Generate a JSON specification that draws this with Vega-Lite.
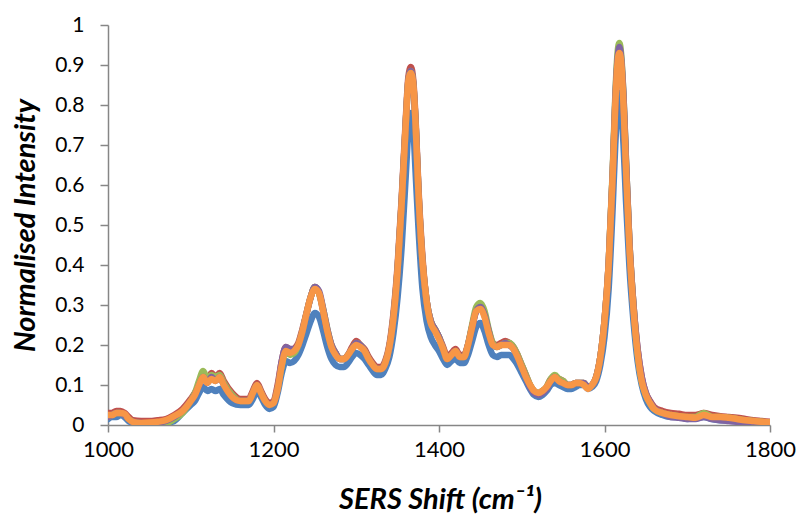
{
  "$schema": "https://vega.github.io/schema/vega-lite/v6.json",
  "width": 662,
  "height": 400,
  "autosize": {"type": "none"},
  "padding": {"left": 108, "top": 25, "right": 27, "bottom": 92},
  "background": "white",
  "config": {"view": {"stroke": null}},
  "data": {"values": [
    {"x":1000,"S1":0.015,"S2":0.03,"S3":0.02,"S4":0.02,"S5":0.025},
    {"x":1005,"S1":0.02,"S2":0.03,"S3":0.025,"S4":0.025,"S5":0.025},
    {"x":1010,"S1":0.02,"S2":0.035,"S3":0.03,"S4":0.03,"S5":0.03},
    {"x":1015,"S1":0.025,"S2":0.035,"S3":0.03,"S4":0.03,"S5":0.03},
    {"x":1020,"S1":0.02,"S2":0.03,"S3":0.025,"S4":0.025,"S5":0.028},
    {"x":1025,"S1":0.01,"S2":0.02,"S3":0.015,"S4":0.015,"S5":0.015},
    {"x":1030,"S1":0.005,"S2":0.012,"S3":0.008,"S4":0.008,"S5":0.008},
    {"x":1040,"S1":0.002,"S2":0.01,"S3":0.004,"S4":0.005,"S5":0.005},
    {"x":1050,"S1":0.0,"S2":0.01,"S3":0.003,"S4":0.004,"S5":0.006},
    {"x":1060,"S1":0.002,"S2":0.012,"S3":0.005,"S4":0.006,"S5":0.008},
    {"x":1070,"S1":0.005,"S2":0.015,"S3":0.005,"S4":0.01,"S5":0.012},
    {"x":1080,"S1":0.01,"S2":0.025,"S3":0.015,"S4":0.02,"S5":0.022},
    {"x":1090,"S1":0.03,"S2":0.04,"S3":0.03,"S4":0.035,"S5":0.035},
    {"x":1100,"S1":0.05,"S2":0.065,"S3":0.06,"S4":0.06,"S5":0.06},
    {"x":1105,"S1":0.06,"S2":0.08,"S3":0.08,"S4":0.075,"S5":0.075},
    {"x":1110,"S1":0.08,"S2":0.1,"S3":0.11,"S4":0.1,"S5":0.1},
    {"x":1115,"S1":0.095,"S2":0.125,"S3":0.135,"S4":0.12,"S5":0.12},
    {"x":1120,"S1":0.085,"S2":0.11,"S3":0.115,"S4":0.105,"S5":0.105},
    {"x":1125,"S1":0.09,"S2":0.13,"S3":0.125,"S4":0.12,"S5":0.115},
    {"x":1130,"S1":0.085,"S2":0.12,"S3":0.12,"S4":0.11,"S5":0.11},
    {"x":1135,"S1":0.09,"S2":0.13,"S3":0.125,"S4":0.12,"S5":0.12},
    {"x":1140,"S1":0.075,"S2":0.11,"S3":0.105,"S4":0.1,"S5":0.1},
    {"x":1150,"S1":0.055,"S2":0.08,"S3":0.075,"S4":0.07,"S5":0.07},
    {"x":1160,"S1":0.05,"S2":0.065,"S3":0.06,"S4":0.06,"S5":0.06},
    {"x":1170,"S1":0.05,"S2":0.065,"S3":0.06,"S4":0.06,"S5":0.06},
    {"x":1175,"S1":0.065,"S2":0.085,"S3":0.08,"S4":0.08,"S5":0.08},
    {"x":1180,"S1":0.085,"S2":0.105,"S3":0.1,"S4":0.1,"S5":0.1},
    {"x":1185,"S1":0.07,"S2":0.085,"S3":0.08,"S4":0.08,"S5":0.08},
    {"x":1190,"S1":0.05,"S2":0.065,"S3":0.06,"S4":0.06,"S5":0.06},
    {"x":1195,"S1":0.04,"S2":0.055,"S3":0.05,"S4":0.05,"S5":0.05},
    {"x":1200,"S1":0.045,"S2":0.06,"S3":0.055,"S4":0.055,"S5":0.055},
    {"x":1205,"S1":0.08,"S2":0.1,"S3":0.09,"S4":0.09,"S5":0.09},
    {"x":1210,"S1":0.13,"S2":0.16,"S3":0.15,"S4":0.16,"S5":0.15},
    {"x":1215,"S1":0.16,"S2":0.195,"S3":0.185,"S4":0.195,"S5":0.185},
    {"x":1220,"S1":0.155,"S2":0.185,"S3":0.175,"S4":0.19,"S5":0.18},
    {"x":1225,"S1":0.16,"S2":0.19,"S3":0.18,"S4":0.19,"S5":0.185},
    {"x":1230,"S1":0.175,"S2":0.205,"S3":0.2,"S4":0.2,"S5":0.2},
    {"x":1235,"S1":0.2,"S2":0.24,"S3":0.235,"S4":0.235,"S5":0.235},
    {"x":1240,"S1":0.23,"S2":0.28,"S3":0.28,"S4":0.28,"S5":0.28},
    {"x":1245,"S1":0.26,"S2":0.32,"S3":0.32,"S4":0.32,"S5":0.32},
    {"x":1250,"S1":0.28,"S2":0.345,"S3":0.345,"S4":0.345,"S5":0.34},
    {"x":1255,"S1":0.27,"S2":0.33,"S3":0.33,"S4":0.335,"S5":0.33},
    {"x":1260,"S1":0.235,"S2":0.285,"S3":0.29,"S4":0.29,"S5":0.285},
    {"x":1265,"S1":0.195,"S2":0.235,"S3":0.24,"S4":0.24,"S5":0.235},
    {"x":1270,"S1":0.165,"S2":0.2,"S3":0.2,"S4":0.2,"S5":0.195},
    {"x":1275,"S1":0.15,"S2":0.18,"S3":0.18,"S4":0.18,"S5":0.175},
    {"x":1280,"S1":0.145,"S2":0.165,"S3":0.165,"S4":0.165,"S5":0.165},
    {"x":1285,"S1":0.145,"S2":0.165,"S3":0.165,"S4":0.165,"S5":0.165},
    {"x":1290,"S1":0.155,"S2":0.175,"S3":0.175,"S4":0.175,"S5":0.175},
    {"x":1295,"S1":0.17,"S2":0.195,"S3":0.19,"S4":0.19,"S5":0.19},
    {"x":1300,"S1":0.18,"S2":0.21,"S3":0.205,"S4":0.205,"S5":0.2},
    {"x":1305,"S1":0.175,"S2":0.2,"S3":0.2,"S4":0.2,"S5":0.195},
    {"x":1310,"S1":0.165,"S2":0.19,"S3":0.185,"S4":0.185,"S5":0.185},
    {"x":1315,"S1":0.15,"S2":0.17,"S3":0.165,"S4":0.165,"S5":0.165},
    {"x":1320,"S1":0.135,"S2":0.155,"S3":0.15,"S4":0.15,"S5":0.15},
    {"x":1325,"S1":0.125,"S2":0.145,"S3":0.14,"S4":0.14,"S5":0.14},
    {"x":1330,"S1":0.125,"S2":0.145,"S3":0.14,"S4":0.14,"S5":0.14},
    {"x":1335,"S1":0.14,"S2":0.16,"S3":0.155,"S4":0.155,"S5":0.155},
    {"x":1340,"S1":0.17,"S2":0.2,"S3":0.195,"S4":0.195,"S5":0.195},
    {"x":1345,"S1":0.23,"S2":0.28,"S3":0.27,"S4":0.27,"S5":0.27},
    {"x":1350,"S1":0.32,"S2":0.4,"S3":0.39,"S4":0.39,"S5":0.39},
    {"x":1355,"S1":0.45,"S2":0.57,"S3":0.56,"S4":0.56,"S5":0.56},
    {"x":1360,"S1":0.63,"S2":0.77,"S3":0.76,"S4":0.76,"S5":0.76},
    {"x":1363,"S1":0.74,"S2":0.87,"S3":0.86,"S4":0.86,"S5":0.86},
    {"x":1366,"S1":0.78,"S2":0.895,"S3":0.885,"S4":0.885,"S5":0.88},
    {"x":1369,"S1":0.74,"S2":0.86,"S3":0.85,"S4":0.85,"S5":0.85},
    {"x":1372,"S1":0.62,"S2":0.75,"S3":0.74,"S4":0.74,"S5":0.74},
    {"x":1375,"S1":0.5,"S2":0.6,"S3":0.59,"S4":0.59,"S5":0.59},
    {"x":1380,"S1":0.34,"S2":0.42,"S3":0.41,"S4":0.41,"S5":0.41},
    {"x":1385,"S1":0.26,"S2":0.31,"S3":0.31,"S4":0.31,"S5":0.31},
    {"x":1390,"S1":0.22,"S2":0.26,"S3":0.26,"S4":0.26,"S5":0.255},
    {"x":1395,"S1":0.2,"S2":0.24,"S3":0.24,"S4":0.24,"S5":0.235},
    {"x":1400,"S1":0.185,"S2":0.22,"S3":0.22,"S4":0.22,"S5":0.215},
    {"x":1405,"S1":0.165,"S2":0.195,"S3":0.19,"S4":0.19,"S5":0.19},
    {"x":1410,"S1":0.15,"S2":0.17,"S3":0.165,"S4":0.165,"S5":0.165},
    {"x":1415,"S1":0.16,"S2":0.18,"S3":0.175,"S4":0.175,"S5":0.175},
    {"x":1420,"S1":0.165,"S2":0.19,"S3":0.185,"S4":0.185,"S5":0.185},
    {"x":1425,"S1":0.155,"S2":0.175,"S3":0.17,"S4":0.17,"S5":0.17},
    {"x":1430,"S1":0.155,"S2":0.175,"S3":0.17,"S4":0.17,"S5":0.17},
    {"x":1435,"S1":0.175,"S2":0.2,"S3":0.2,"S4":0.2,"S5":0.2},
    {"x":1440,"S1":0.21,"S2":0.245,"S3":0.25,"S4":0.245,"S5":0.245},
    {"x":1445,"S1":0.245,"S2":0.285,"S3":0.295,"S4":0.285,"S5":0.285},
    {"x":1450,"S1":0.255,"S2":0.295,"S3":0.305,"S4":0.295,"S5":0.29},
    {"x":1455,"S1":0.235,"S2":0.275,"S3":0.285,"S4":0.275,"S5":0.27},
    {"x":1460,"S1":0.2,"S2":0.235,"S3":0.24,"S4":0.235,"S5":0.23},
    {"x":1465,"S1":0.175,"S2":0.205,"S3":0.205,"S4":0.2,"S5":0.2},
    {"x":1470,"S1":0.17,"S2":0.2,"S3":0.195,"S4":0.195,"S5":0.195},
    {"x":1475,"S1":0.175,"S2":0.205,"S3":0.2,"S4":0.2,"S5":0.2},
    {"x":1480,"S1":0.175,"S2":0.21,"S3":0.205,"S4":0.205,"S5":0.2},
    {"x":1485,"S1":0.175,"S2":0.205,"S3":0.205,"S4":0.2,"S5":0.2},
    {"x":1490,"S1":0.165,"S2":0.195,"S3":0.195,"S4":0.19,"S5":0.19},
    {"x":1495,"S1":0.15,"S2":0.175,"S3":0.175,"S4":0.17,"S5":0.17},
    {"x":1500,"S1":0.13,"S2":0.15,"S3":0.15,"S4":0.145,"S5":0.145},
    {"x":1505,"S1":0.11,"S2":0.125,"S3":0.125,"S4":0.12,"S5":0.12},
    {"x":1510,"S1":0.09,"S2":0.1,"S3":0.1,"S4":0.095,"S5":0.1},
    {"x":1515,"S1":0.075,"S2":0.085,"S3":0.085,"S4":0.08,"S5":0.085},
    {"x":1520,"S1":0.07,"S2":0.08,"S3":0.08,"S4":0.075,"S5":0.08},
    {"x":1525,"S1":0.075,"S2":0.085,"S3":0.085,"S4":0.08,"S5":0.085},
    {"x":1530,"S1":0.085,"S2":0.095,"S3":0.095,"S4":0.09,"S5":0.095},
    {"x":1535,"S1":0.1,"S2":0.115,"S3":0.115,"S4":0.11,"S5":0.11},
    {"x":1540,"S1":0.105,"S2":0.12,"S3":0.125,"S4":0.12,"S5":0.12},
    {"x":1545,"S1":0.1,"S2":0.115,"S3":0.115,"S4":0.11,"S5":0.11},
    {"x":1550,"S1":0.095,"S2":0.11,"S3":0.11,"S4":0.105,"S5":0.105},
    {"x":1555,"S1":0.09,"S2":0.1,"S3":0.1,"S4":0.1,"S5":0.1},
    {"x":1560,"S1":0.09,"S2":0.1,"S3":0.1,"S4":0.1,"S5":0.1},
    {"x":1565,"S1":0.095,"S2":0.105,"S3":0.105,"S4":0.105,"S5":0.105},
    {"x":1570,"S1":0.1,"S2":0.105,"S3":0.105,"S4":0.105,"S5":0.105},
    {"x":1575,"S1":0.1,"S2":0.105,"S3":0.105,"S4":0.105,"S5":0.1},
    {"x":1580,"S1":0.09,"S2":0.095,"S3":0.095,"S4":0.095,"S5":0.09},
    {"x":1585,"S1":0.095,"S2":0.1,"S3":0.1,"S4":0.1,"S5":0.1},
    {"x":1590,"S1":0.11,"S2":0.12,"S3":0.12,"S4":0.12,"S5":0.12},
    {"x":1595,"S1":0.15,"S2":0.17,"S3":0.17,"S4":0.17,"S5":0.17},
    {"x":1600,"S1":0.22,"S2":0.26,"S3":0.26,"S4":0.26,"S5":0.26},
    {"x":1605,"S1":0.34,"S2":0.4,"S3":0.4,"S4":0.4,"S5":0.4},
    {"x":1610,"S1":0.55,"S2":0.63,"S3":0.64,"S4":0.63,"S5":0.63},
    {"x":1613,"S1":0.7,"S2":0.8,"S3":0.82,"S4":0.81,"S5":0.8},
    {"x":1616,"S1":0.8,"S2":0.91,"S3":0.935,"S4":0.92,"S5":0.91},
    {"x":1618,"S1":0.83,"S2":0.935,"S3":0.955,"S4":0.945,"S5":0.93},
    {"x":1620,"S1":0.8,"S2":0.91,"S3":0.93,"S4":0.92,"S5":0.91},
    {"x":1623,"S1":0.7,"S2":0.81,"S3":0.82,"S4":0.82,"S5":0.8},
    {"x":1626,"S1":0.56,"S2":0.65,"S3":0.66,"S4":0.66,"S5":0.64},
    {"x":1630,"S1":0.4,"S2":0.46,"S3":0.46,"S4":0.46,"S5":0.45},
    {"x":1635,"S1":0.26,"S2":0.3,"S3":0.3,"S4":0.3,"S5":0.29},
    {"x":1640,"S1":0.16,"S2":0.19,"S3":0.18,"S4":0.19,"S5":0.18},
    {"x":1645,"S1":0.1,"S2":0.12,"S3":0.11,"S4":0.12,"S5":0.11},
    {"x":1650,"S1":0.065,"S2":0.08,"S3":0.075,"S4":0.08,"S5":0.075},
    {"x":1655,"S1":0.045,"S2":0.06,"S3":0.055,"S4":0.058,"S5":0.055},
    {"x":1660,"S1":0.035,"S2":0.045,"S3":0.04,"S4":0.042,"S5":0.04},
    {"x":1670,"S1":0.025,"S2":0.035,"S3":0.03,"S4":0.03,"S5":0.03},
    {"x":1680,"S1":0.02,"S2":0.03,"S3":0.025,"S4":0.02,"S5":0.025},
    {"x":1690,"S1":0.02,"S2":0.028,"S3":0.022,"S4":0.018,"S5":0.022},
    {"x":1700,"S1":0.015,"S2":0.025,"S3":0.02,"S4":0.015,"S5":0.02},
    {"x":1710,"S1":0.018,"S2":0.025,"S3":0.02,"S4":0.015,"S5":0.018},
    {"x":1720,"S1":0.02,"S2":0.03,"S3":0.03,"S4":0.02,"S5":0.025},
    {"x":1730,"S1":0.015,"S2":0.025,"S3":0.02,"S4":0.015,"S5":0.02},
    {"x":1740,"S1":0.012,"S2":0.022,"S3":0.02,"S4":0.012,"S5":0.02},
    {"x":1750,"S1":0.012,"S2":0.02,"S3":0.018,"S4":0.01,"S5":0.018},
    {"x":1760,"S1":0.01,"S2":0.018,"S3":0.015,"S4":0.008,"S5":0.015},
    {"x":1770,"S1":0.008,"S2":0.015,"S3":0.012,"S4":0.006,"S5":0.012},
    {"x":1780,"S1":0.006,"S2":0.012,"S3":0.01,"S4":0.004,"S5":0.01},
    {"x":1790,"S1":0.005,"S2":0.01,"S3":0.008,"S4":0.003,"S5":0.008},
    {"x":1800,"S1":0.004,"S2":0.008,"S3":0.006,"S4":0.002,"S5":0.006}
  ]},
  "transform": [{"fold": ["S1", "S2", "S3", "S4", "S5"], "as": ["series", "value"]}],
  "mark": {"type": "line", "strokeWidth": 6.5, "strokeCap": "round", "strokeJoin": "round", "interpolate": "monotone", "clip": true},
  "encoding": {
    "x": {
      "field": "x", "type": "quantitative",
      "scale": {"domain": [1000, 1800], "nice": false, "zero": false},
      "axis": {
        "values": [1000, 1200, 1400, 1600, 1800],
        "format": "d",
        "grid": false,
        "labelFlush": false,
        "labelOverlap": false,
        "labelBound": false,
        "domainColor": "#868686", "domainWidth": 1.5,
        "tickColor": "#868686", "tickSize": 7, "tickWidth": 1.5,
        "labelFont": "Lato", "labelFontSize": 22, "labelColor": "#000000", "labelPadding": 7,
        "title": "SERS Shift (cm⁻¹)",
        "titleFont": "Lato", "titleFontSize": 29, "titleFontWeight": "bold", "titleFontStyle": "italic", "titleColor": "#000000",
        "titleX": 332, "titleY": 74, "titleBaseline": "middle", "titleAlign": "center"
      }
    },
    "y": {
      "field": "value", "type": "quantitative",
      "scale": {"domain": [0, 1], "nice": false},
      "axis": {
        "values": [0, 0.1, 0.2, 0.3, 0.4, 0.5, 0.6, 0.7, 0.8, 0.9, 1],
        "format": "~g",
        "grid": false,
        "labelFlush": false,
        "labelOverlap": false,
        "labelBound": false,
        "domainColor": "#868686", "domainWidth": 1.5,
        "tickColor": "#868686", "tickSize": 8, "tickWidth": 1.5,
        "labelFont": "Lato", "labelFontSize": 21, "labelColor": "#000000", "labelPadding": 16,
        "title": "Normalised Intensity",
        "titleFont": "Lato", "titleFontSize": 29, "titleFontWeight": "bold", "titleFontStyle": "italic", "titleColor": "#000000",
        "titleX": -83, "titleY": 200, "titleBaseline": "middle", "titleAlign": "center", "titleAngle": -90
      }
    },
    "color": {
      "field": "series", "type": "nominal",
      "scale": {"domain": ["S1", "S2", "S3", "S4", "S5"], "range": ["#4F81BD", "#C0504D", "#9BBB59", "#8064A2", "#F79646"]},
      "legend": null
    }
  }
}
